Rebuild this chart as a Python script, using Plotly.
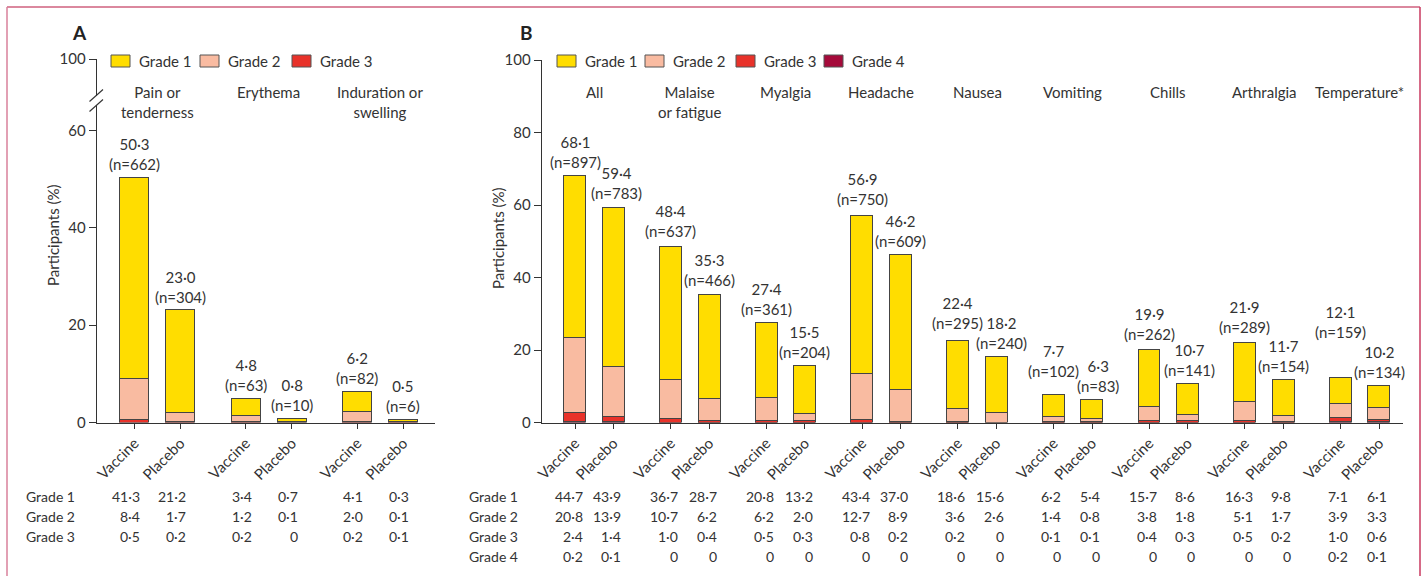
import plotly.graph_objects as go

W, H = 1424, 576


def px(x):
    return x / W


def py(y):
    return 1 - y / H


FONT = "Lato"
TXT = "#333333"
GRADE_COLORS = {
    "Grade 1": "#FFDD00",
    "Grade 2": "#F9BBA1",
    "Grade 3": "#E8322A",
    "Grade 4": "#A50A3A",
}
OUTLINE = "#444444"

# ---------------- Panel A: local reactions ----------------
a_categories = ["Pain or<br>tenderness", "Erythema", "Induration or<br>swelling"]
a_vaccine_g1 = [41.3, 3.4, 4.1]
a_vaccine_g2 = [8.4, 1.2, 2.0]
a_vaccine_g3 = [0.5, 0.2, 0.2]
a_placebo_g1 = [21.2, 0.7, 0.3]
a_placebo_g2 = [1.7, 0.1, 0.1]
a_placebo_g3 = [0.2, 0.0, 0.1]
a_vaccine_total = [50.3, 4.8, 6.2]
a_placebo_total = [23.0, 0.8, 0.5]
a_vaccine_n = [662, 63, 82]
a_placebo_n = [304, 10, 6]

# ---------------- Panel B: systemic reactions ----------------
b_categories = ["All", "Malaise<br>or fatigue", "Myalgia", "Headache", "Nausea",
                "Vomiting", "Chills", "Arthralgia", "Temperature*"]
b_vaccine_g1 = [44.7, 36.7, 20.8, 43.4, 18.6, 6.2, 15.7, 16.3, 7.1]
b_vaccine_g2 = [20.8, 10.7, 6.2, 12.7, 3.6, 1.4, 3.8, 5.1, 3.9]
b_vaccine_g3 = [2.4, 1.0, 0.5, 0.8, 0.2, 0.1, 0.4, 0.5, 1.0]
b_vaccine_g4 = [0.2, 0, 0, 0, 0, 0, 0, 0, 0.2]
b_placebo_g1 = [43.9, 28.7, 13.2, 37.0, 15.6, 5.4, 8.6, 9.8, 6.1]
b_placebo_g2 = [13.9, 6.2, 2.0, 8.9, 2.6, 0.8, 1.8, 1.7, 3.3]
b_placebo_g3 = [1.4, 0.4, 0.3, 0.2, 0, 0.1, 0.3, 0.2, 0.6]
b_placebo_g4 = [0.1, 0, 0, 0, 0, 0, 0, 0, 0.1]
b_vaccine_total = [68.1, 48.4, 27.4, 56.9, 22.4, 7.7, 19.9, 21.9, 12.1]
b_placebo_total = [59.4, 35.3, 15.5, 46.2, 18.2, 6.3, 10.7, 11.7, 10.2]
b_vaccine_n = [897, 637, 361, 750, 295, 102, 262, 289, 159]
b_placebo_n = [783, 466, 204, 609, 240, 83, 141, 154, 134]

y_ticks_a = [0, 20, 40, 60]
y_ticks_b = [0, 20, 40, 60, 80, 100]

# label placement tweaks (pixels) — layout only
b_vaccine_label_lift = [0, 2, 0, 3, 4, 10, 2, 2, 33]
b_placebo_label_lift = [0, 1, 0, 0, 0, 0, 0, 0, 0]
b_placebo_label_dx = [3, 0, 0, 0, 5, 6, 2, 0, 0]


def fmt(v):
    if v == 0:
        return "0"
    return f"{v:.1f}".replace(".", "\u00b7")


A_SPACING = 2.42
B_SPACING = 2.485


def positions(n, spacing):
    xs, labels = [], []
    for i in range(n):
        xs += [i * spacing, i * spacing + 1]
        labels += ["Vaccine", "Placebo"]
    return xs, labels


def interleave(v, p):
    out = []
    for a, b in zip(v, p):
        out += [a, b]
    return out


a_x, a_ticktext = positions(len(a_categories), A_SPACING)
b_x, b_ticktext = positions(len(b_categories), B_SPACING)

fig = go.Figure()

a_series = [
    ("Grade 3", a_vaccine_g3, a_placebo_g3),
    ("Grade 2", a_vaccine_g2, a_placebo_g2),
    ("Grade 1", a_vaccine_g1, a_placebo_g1),
]
for name, v, p in a_series:
    fig.add_trace(go.Bar(
        x=a_x, y=interleave(v, p), name=name, width=0.63,
        marker=dict(color=GRADE_COLORS[name], line=dict(color=OUTLINE, width=1)),
        xaxis="x", yaxis="y", showlegend=False))

b_series = [
    ("Grade 4", b_vaccine_g4, b_placebo_g4),
    ("Grade 3", b_vaccine_g3, b_placebo_g3),
    ("Grade 2", b_vaccine_g2, b_placebo_g2),
    ("Grade 1", b_vaccine_g1, b_placebo_g1),
]
for name, v, p in b_series:
    fig.add_trace(go.Bar(
        x=b_x, y=interleave(v, p), name=name, width=0.57,
        marker=dict(color=GRADE_COLORS[name], line=dict(color=OUTLINE, width=1)),
        xaxis="x2", yaxis="y2", showlegend=False))

annotations = []
shapes = []


def top_labels(xs, vt, pt, vn, pn, xref, yref, lifts=None, dxs=None):
    totals = interleave(vt, pt)
    ns = interleave(vn, pn)
    for k, (x, t, n) in enumerate(zip(xs, totals, ns)):
        lift = lifts[k] if lifts else 0
        dx = dxs[k] if dxs else 0
        annotations.append(dict(
            x=x, y=t, xref=xref, yref=yref, yanchor="bottom", xanchor="center",
            yshift=3 + lift, xshift=dx, showarrow=False, text=f"{fmt(t)}<br>(n={n})",
            font=dict(family=FONT, size=15, color=TXT)))


top_labels(a_x, a_vaccine_total, a_placebo_total, a_vaccine_n, a_placebo_n, "x", "y")
top_labels(b_x, b_vaccine_total, b_placebo_total, b_vaccine_n, b_placebo_n, "x2", "y2",
           interleave(b_vaccine_label_lift, b_placebo_label_lift),
           interleave([0] * len(b_categories), b_placebo_label_dx))

# category labels
for i, c in enumerate(a_categories):
    annotations.append(dict(x=i * A_SPACING + 0.5, y=py(81), xref="x", yref="paper",
                            yanchor="top", xanchor="center", showarrow=False, text=c,
                            font=dict(family=FONT, size=15, color=TXT)))
for i, c in enumerate(b_categories):
    annotations.append(dict(x=i * B_SPACING + 0.5, y=py(81), xref="x2", yref="paper",
                            yanchor="top", xanchor="center", showarrow=False, text=c,
                            font=dict(family=FONT, size=15, color=TXT)))

# table below
ROW_Y = [496, 516, 536, 556]


def table(xs, rows, xref, label_x, offset):
    for r, (label, v, p) in enumerate(rows):
        annotations.append(dict(x=px(label_x), y=py(ROW_Y[r]), xref="paper", yref="paper",
                                xanchor="left", yanchor="middle", showarrow=False, text=label,
                                font=dict(family=FONT, size=14, color=TXT)))
        for x, val in zip(xs, interleave(v, p)):
            annotations.append(dict(x=x + offset, y=py(ROW_Y[r]), xref=xref, yref="paper",
                                    xanchor="right", yanchor="middle", showarrow=False,
                                    text=fmt(val), font=dict(family=FONT, size=14, color=TXT)))


table(a_x, [("Grade 1", a_vaccine_g1, a_placebo_g1),
            ("Grade 2", a_vaccine_g2, a_placebo_g2),
            ("Grade 3", a_vaccine_g3, a_placebo_g3)], "x", 24, 0.17)
table(b_x, [("Grade 1", b_vaccine_g1, b_placebo_g1),
            ("Grade 2", b_vaccine_g2, b_placebo_g2),
            ("Grade 3", b_vaccine_g3, b_placebo_g3),
            ("Grade 4", b_vaccine_g4, b_placebo_g4)], "x2", 467, 0.25)

# panel letters and axis titles
for letter, lx in (("A", 79), ("B", 526)):
    annotations.append(dict(x=px(lx), y=py(33), xref="paper", yref="paper",
                            xanchor="center", yanchor="middle", text=f"<b>{letter}</b>",
                            showarrow=False, font=dict(family=FONT, size=19, color="#222")))
for tx, ty in ((53, 235), (498, 238)):
    annotations.append(dict(x=px(tx), y=py(ty), xref="paper", yref="paper",
                            xanchor="center", yanchor="middle", text="Participants (%)",
                            textangle=-90, showarrow=False,
                            font=dict(family=FONT, size=15, color=TXT)))


def legend(items, x_starts, y):
    for name, x0 in zip(items, x_starts):
        shapes.append(dict(type="rect", xref="paper", yref="paper",
                           x0=px(x0), x1=px(x0 + 19), y0=py(y + 6), y1=py(y - 6),
                           fillcolor=GRADE_COLORS[name], line=dict(color="#555", width=1)))
        annotations.append(dict(x=px(x0 + 26), y=py(y), xref="paper", yref="paper",
                                xanchor="left", yanchor="middle", showarrow=False, text=name,
                                font=dict(family=FONT, size=15, color=TXT)))


legend(["Grade 1", "Grade 2", "Grade 3"], [111, 200, 292], 61)
legend(["Grade 1", "Grade 2", "Grade 3", "Grade 4"], [557, 645, 736, 824], 61)

# axis break on panel A
shapes.append(dict(type="rect", xref="paper", yref="paper", x0=px(94), x1=px(100),
                   y0=py(105), y1=py(96), fillcolor="white", line=dict(width=0)))
for yc in (95.5, 105.5):
    shapes.append(dict(type="line", xref="paper", yref="paper",
                       x0=px(89.5), y0=py(yc + 6), x1=px(103), y1=py(yc - 6),
                       line=dict(color="#333", width=1.2)))

# frame
shapes.append(dict(type="line", xref="paper", yref="paper", x0=px(7), x1=px(1420),
                   y0=py(7), y1=py(7), line=dict(color="#B8123E", width=1.2)))
shapes.append(dict(type="line", xref="paper", yref="paper", x0=px(7), x1=px(7),
                   y0=py(7), y1=py(580), line=dict(color="#D9819B", width=1.5)))
shapes.append(dict(type="line", xref="paper", yref="paper", x0=px(1420), x1=px(1420),
                   y0=py(7), y1=py(580), line=dict(color="#C8395F", width=1.5)))

axis_common = dict(showgrid=False, zeroline=False, showline=True, linecolor="#333",
                   linewidth=1.2, ticks="outside", tickcolor="#333", tickwidth=1.2,
                   tickfont=dict(family=FONT, size=15, color=TXT), fixedrange=True,
                   automargin=False)

A_TOP = (422.5 - 59) / ((422.5 - 130.5) / 60)

fig.update_layout(
    template="none",
    width=W, height=H, autosize=False,
    margin=dict(l=0, r=0, t=0, b=0, pad=0),
    paper_bgcolor="white", plot_bgcolor="white",
    barmode="stack", bargap=0,
    font=dict(family=FONT, color=TXT),
    xaxis=dict(axis_common, domain=[px(96.7), px(435)], range=[-0.82, 6.53],
               tickvals=a_x, ticktext=a_ticktext, tickangle=-45, ticklen=5, anchor="y"),
    yaxis=dict(axis_common, domain=[py(422.5), py(59)], range=[0, A_TOP],
               tickvals=y_ticks_a + [A_TOP], ticktext=[str(t) for t in y_ticks_a] + ["100"],
               ticklen=7, anchor="x"),
    xaxis2=dict(axis_common, domain=[px(541.7), px(1403)], range=[-0.865, 21.5],
                tickvals=b_x, ticktext=b_ticktext, tickangle=-45, ticklen=5, anchor="y2"),
    yaxis2=dict(axis_common, domain=[py(422.5), py(60)], range=[0, 100],
                tickvals=y_ticks_b, ticktext=[str(t) for t in y_ticks_b],
                ticklen=7, anchor="x2"),
    annotations=annotations,
    shapes=shapes,
)

fig.write_html("out.html")
